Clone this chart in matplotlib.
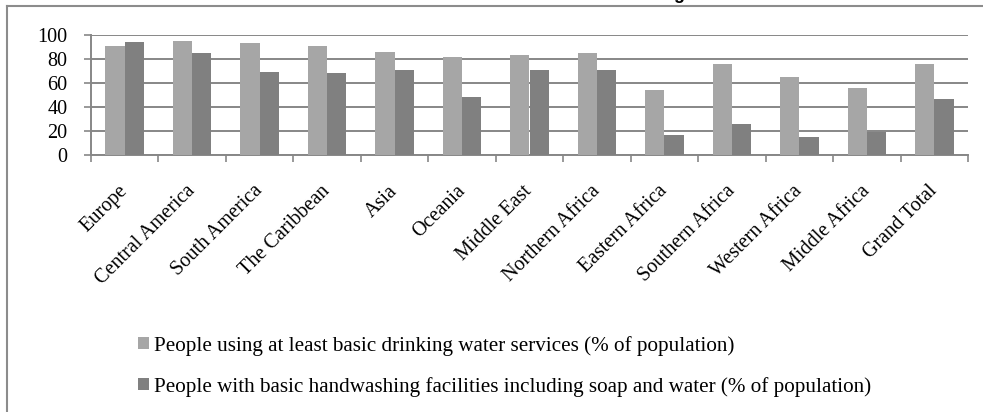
import numpy as np
import matplotlib
matplotlib.use("Agg")
import matplotlib.pyplot as plt
from matplotlib.lines import Line2D

plt.rcParams['font.family'] = ['Liberation Serif', 'DejaVu Serif']

regions = ["Europe", "Central America", "South America", "The Caribbean", "Asia",
           "Oceania", "Middle East", "Northern Africa", "Eastern Africa",
           "Southern Africa", "Western Africa", "Middle Africa", "Grand Total"]
water = [91, 95, 93, 91, 86, 82, 83, 85, 54, 76, 65, 56, 76]
handwash = [94, 85, 69, 68, 71, 48, 71, 71, 17, 26, 15, 19, 47]
series_names = ["People using at least basic drinking water services (% of population)",
                "People with basic handwashing facilities including soap and water (% of population)"]
yticks = [0, 20, 40, 60, 80, 100]

light = '#a6a6a6'
dark = '#808080'
gridc = '#878787'

W, H = 983, 412
fig = plt.figure(figsize=(W / 100, H / 100), dpi=100)
ax = fig.add_axes([91 / W, 1 - 155 / H, (968 - 91) / W, 120 / H])

x = np.arange(len(regions))
bw = 0.286
ax.bar(x - bw / 2, water, width=bw, color=light, zorder=3, label=series_names[0])
ax.bar(x + bw / 2, handwash, width=bw, color=dark, zorder=3, label=series_names[1])

ax.set_xlim(-0.5, len(regions) - 0.5)
ax.set_ylim(0, 100)
ax.set_yticks(yticks)
ax.yaxis.grid(True, color=gridc, linewidth=1.4, zorder=0)
ax.tick_params(axis='y', length=5, width=1.2, color=gridc, pad=12, labelsize=14.5)

ax.set_xticks(x)
ax.set_xticklabels(regions, rotation=45, ha='right', va='center', rotation_mode='anchor')
ax.set_xticks(np.arange(len(regions) + 1) - 0.5, minor=True)
ax.tick_params(axis='x', which='major', length=0, pad=24, labelsize=14.5)
ax.tick_params(axis='x', which='minor', length=5, width=1.2, color=gridc)

for s in ['top', 'right']:
    ax.spines[s].set_visible(False)
for s in ['left', 'bottom']:
    ax.spines[s].set_color(gridc)
    ax.spines[s].set_linewidth(1.4)

leg = fig.legend(loc='upper left', bbox_to_anchor=(138 / W, 1 - 336 / H),
                 frameon=False, fontsize=15.2, handlelength=0.5, handleheight=0.5,
                 handletextpad=0.25, labelspacing=0.98, borderpad=0, borderaxespad=0)

# outer chart frame (cut off at right and bottom)
fig.add_artist(Line2D([7 / W, 7 / W], [-0.1, 1 - 6 / H], color='#8c8c8c', linewidth=1.5))
fig.add_artist(Line2D([7 / W, 1.1], [1 - 6 / H, 1 - 6 / H], color='#8c8c8c', linewidth=1.5))

# title cut off above the picture, only the descender shows
fig.text(673 / W, 1 + 1 / H, "g", family='Liberation Sans', weight='bold', fontsize=13, va='baseline')

fig.savefig("out.png", dpi=100)
